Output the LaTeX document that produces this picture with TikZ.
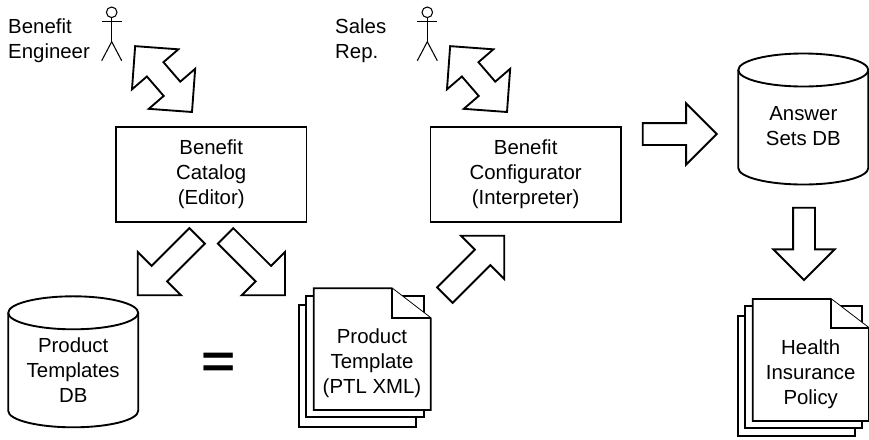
\documentclass[tikz,border=0pt]{standalone}
\usepackage{fontspec}
\setmainfont{Liberation Sans}
\usetikzlibrary{shapes.geometric, shapes.arrows}

\tikzset{
    label text/.style={font=\fontsize{17.4}{21.3}\selectfont, align=center, inner sep=0pt},
    module box/.style={draw, line width=1.6pt, minimum width=190.5*0.03cm, minimum height=95*0.03cm, label text},
    db/.pic={
        \draw[line width=1.6pt] (-65, -49) arc [start angle=180, end angle=0, x radius=1.95cm, y radius=0.495cm]
            -- (65, 49) arc [start angle=0, end angle=-180, x radius=1.95cm, y radius=0.495cm] -- cycle;
        \draw[line width=1.6pt] (-65, -49) arc [start angle=180, end angle=360, x radius=1.95cm, y radius=0.495cm];
    },
    one way/.style={draw, line width=1.6pt, single arrow, inner xsep=0pt, inner ysep=10*0.03cm, outer sep=0pt,
        single arrow tip angle=90, single arrow head extend=19.7*0.03cm,
        minimum width=59.5*0.03cm, minimum height=84*0.03cm, anchor=tip},
    two way/.style={draw, line width=1.6pt, double arrow, inner xsep=0pt, inner ysep=10*0.03cm, outer sep=0pt,
        double arrow tip angle=90, double arrow head extend=19.7*0.03cm,
        minimum width=59.5*0.03cm, minimum height=87*0.03cm, anchor=tip 1},
    page/.style={line width=1.6pt, fill=white},
    actor/.style={line width=0.9pt}
}

\begin{document}
\begin{tikzpicture}[x=0.03cm, y=-0.03cm]
    \useasboundingbox (0, 0) rectangle (869, 439);

    % stick figures
    \foreach \x in {111.7, 427.3} {
        \draw[actor] (\x, 12.3) circle [radius=5.3];
        \draw[actor] (\x, 17.6) -- (\x, 41.7);
        \draw[actor] (\x-10, 21.7) -- (\x+10, 21.7);
        \draw[actor] (\x-10, 60.7) -- (\x, 41.7) -- (\x+10, 60.7);
    }
    \node[label text, align=left, anchor=west] (engineer) at (8, 40.5) {Benefit\\Engineer};
    \node[label text, align=left, anchor=west] (sales) at (335, 40.5) {Sales\\Rep.};

    \node[module box] (catalog) at (211.2, 174.4) {Benefit\\Catalog\\(Editor)};
    \node[module box] (configurator) at (525.7, 174.4) {Benefit\\Configurator\\(Interpreter)};

    \pic at (73.2, 361.8) {db};
    \node[label text] (templates) at (73.2, 370) {Product\\Templates\\DB};
    \pic at (803.3, 119) {db};
    \node[label text] (answers) at (803.3, 126.5) {Answer\\Sets DB};

    \node[font=\bfseries\fontsize{50}{50}\selectfont, inner sep=0pt, transform shape, yscale=0.8] (equals) at (218.7, 365) {=};

    % block arrows
    \node[two way, rotate=-49.2] (engineer arrow) at (192, 112) {};
    \node[two way, rotate=-49.2] (sales arrow) at (507, 112) {};
    \node[one way, rotate=225] (to templates) at (137.7, 295.3) {};
    \node[one way, rotate=-45] (to template) at (285, 295.3) {};
    \node[one way, rotate=45] (to configurator) at (504.3, 235.7) {};
    \node[one way, minimum height=74*0.03cm] (to answers) at (716.7, 134) {};
    \node[one way, rotate=-90, minimum height=72.3*0.03cm] (to policy) at (804, 280) {};

    % product template pages
    \draw[page] (298.7, 305) rectangle (416.3, 427.3);
    \draw[page] (306.3, 295.7) rectangle (423.7, 417.3);
    \draw[page] (313.7, 288.3) -- (391.7, 288.3) -- (430.7, 318.3) -- (430.7, 410) -- (313.7, 410) -- cycle;
    \draw[page] (391.7, 288.3) -- (391.7, 318.3) -- (430.7, 318.3);
    \node[label text] (template) at (372, 363) {Product\\Template\\(PTL XML)};

    % policy pages
    \draw[page] (738, 315.7) rectangle (855, 435.7);
    \draw[page] (745.3, 306) rectangle (862, 428.3);
    \draw[page] (752.7, 299) -- (830.7, 299) -- (869, 328.3) -- (869, 421) -- (752.7, 421) -- cycle;
    \draw[page] (830.7, 299) -- (830.7, 328.3) -- (869, 328.3);
    \node[label text] (policy) at (810.7, 374) {Health\\Insurance\\Policy};
\end{tikzpicture}
\end{document}
